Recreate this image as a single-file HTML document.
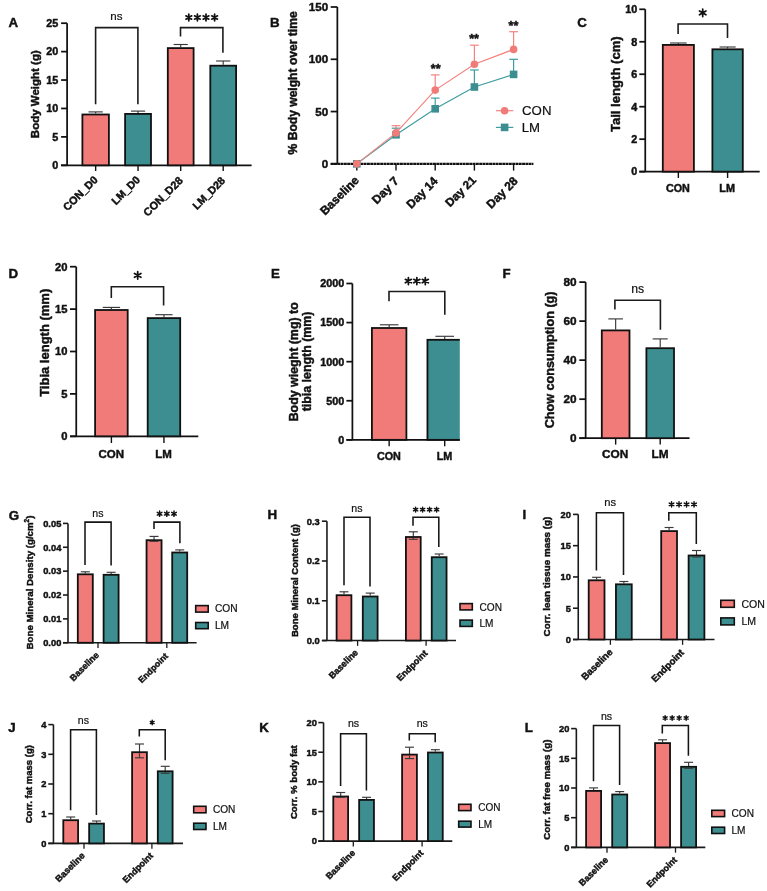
<!DOCTYPE html>
<html><head><meta charset="utf-8"><style>
html,body{margin:0;padding:0;background:#fff;}
svg{display:block;font-family:"Liberation Sans", sans-serif;will-change:transform;filter:blur(0.3px);}

</style></head><body>
<svg width="767" height="891" viewBox="0 0 767 891">
<rect width="767" height="891" fill="#fff"/>
<text x="8.5" y="26.8" font-size="13.3" font-weight="bold" text-anchor="start" fill="#111" stroke="#111" stroke-width="0.45" >A</text>
<line x1="67.1" y1="23.2" x2="67.1" y2="165.3" stroke="#111" stroke-width="1.75" />
<line x1="61.1" y1="165.3" x2="67.1" y2="165.3" stroke="#111" stroke-width="1.75" />
<text x="58.39" y="169.13" font-size="10.8" font-weight="bold" text-anchor="end" fill="#111" stroke="#111" stroke-width="0.45" >0</text>
<line x1="61.1" y1="136.88" x2="67.1" y2="136.88" stroke="#111" stroke-width="1.75" />
<text x="58.39" y="140.71" font-size="10.8" font-weight="bold" text-anchor="end" fill="#111" stroke="#111" stroke-width="0.45" >5</text>
<line x1="61.1" y1="108.46" x2="67.1" y2="108.46" stroke="#111" stroke-width="1.75" />
<text x="58.39" y="112.29" font-size="10.8" font-weight="bold" text-anchor="end" fill="#111" stroke="#111" stroke-width="0.45" >10</text>
<line x1="61.1" y1="80.04" x2="67.1" y2="80.04" stroke="#111" stroke-width="1.75" />
<text x="58.39" y="83.87" font-size="10.8" font-weight="bold" text-anchor="end" fill="#111" stroke="#111" stroke-width="0.45" >15</text>
<line x1="61.1" y1="51.62" x2="67.1" y2="51.62" stroke="#111" stroke-width="1.75" />
<text x="58.39" y="55.45" font-size="10.8" font-weight="bold" text-anchor="end" fill="#111" stroke="#111" stroke-width="0.45" >20</text>
<line x1="61.1" y1="23.2" x2="67.1" y2="23.2" stroke="#111" stroke-width="1.75" />
<text x="58.39" y="27.03" font-size="10.8" font-weight="bold" text-anchor="end" fill="#111" stroke="#111" stroke-width="0.45" >25</text>
<line x1="61.1" y1="165.3" x2="251.6" y2="165.3" stroke="#111" stroke-width="1.75" />
<line x1="95.65" y1="113.6" x2="95.65" y2="111.9" stroke="#3a3a3a" stroke-width="1.15" />
<line x1="88.55" y1="111.9" x2="102.75" y2="111.9" stroke="#3a3a3a" stroke-width="1.15" />
<rect x="82.4" y="114.5" width="26.5" height="50.8" fill="#F17B78" stroke="#111" stroke-width="1.8" />
<line x1="95.65" y1="165.3" x2="95.65" y2="171" stroke="#111" stroke-width="1.4" />
<line x1="138.05" y1="113" x2="138.05" y2="111.1" stroke="#3a3a3a" stroke-width="1.15" />
<line x1="130.95" y1="111.1" x2="145.15" y2="111.1" stroke="#3a3a3a" stroke-width="1.15" />
<rect x="125.1" y="113.9" width="25.9" height="51.4" fill="#3C8E91" stroke="#111" stroke-width="1.8" />
<line x1="138.05" y1="165.3" x2="138.05" y2="171" stroke="#111" stroke-width="1.4" />
<line x1="180.7" y1="47.2" x2="180.7" y2="44.5" stroke="#3a3a3a" stroke-width="1.15" />
<line x1="173.6" y1="44.5" x2="187.8" y2="44.5" stroke="#3a3a3a" stroke-width="1.15" />
<rect x="167.8" y="48.1" width="25.8" height="117.2" fill="#F17B78" stroke="#111" stroke-width="1.8" />
<line x1="180.7" y1="165.3" x2="180.7" y2="171" stroke="#111" stroke-width="1.4" />
<line x1="223.2" y1="64.8" x2="223.2" y2="61" stroke="#3a3a3a" stroke-width="1.15" />
<line x1="216.1" y1="61" x2="230.3" y2="61" stroke="#3a3a3a" stroke-width="1.15" />
<rect x="210.3" y="65.7" width="25.8" height="99.6" fill="#3C8E91" stroke="#111" stroke-width="1.8" />
<line x1="223.2" y1="165.3" x2="223.2" y2="171" stroke="#111" stroke-width="1.4" />
<text x="98.45" y="180.5" font-size="10.79" font-weight="bold" text-anchor="end" fill="#111" stroke="#111" stroke-width="0.45" transform="rotate(-45 98.45 180.5)" >CON_D0</text>
<text x="140.85" y="180.5" font-size="10.75" font-weight="bold" text-anchor="end" fill="#111" stroke="#111" stroke-width="0.45" transform="rotate(-45 140.85 180.5)" >LM_D0</text>
<text x="183.5" y="181.3" font-size="10.93" font-weight="bold" text-anchor="end" fill="#111" stroke="#111" stroke-width="0.45" transform="rotate(-45 183.5 181.3)" >CON_D28</text>
<text x="225.8" y="181.3" font-size="10.66" font-weight="bold" text-anchor="end" fill="#111" stroke="#111" stroke-width="0.45" transform="rotate(-45 225.8 181.3)" >LM_D28</text>
<polyline points="95.6,104.2 95.6,27.6 137.9,27.6 137.9,104.2" fill="none" stroke="#1c1c1c" stroke-width="1.6" stroke-linejoin="miter" />
<text x="116.4" y="19.9" font-size="11.6" font-weight="normal" text-anchor="middle" fill="#111" stroke="#111" stroke-width="0.2" >ns</text>
<polyline points="180.5,36.4 180.5,27.6 222.9,27.6 222.9,52.8" fill="none" stroke="#1c1c1c" stroke-width="1.6" stroke-linejoin="miter" />
<path d="M188.8 20.82L188.8 14.18M185.92 19.16L191.68 15.84M191.68 19.16L185.92 15.84" stroke="#111" stroke-width="1.75" stroke-linecap="round" fill="none"/>
<path d="M197.4 20.82L197.4 14.18M194.52 19.16L200.28 15.84M200.28 19.16L194.52 15.84" stroke="#111" stroke-width="1.75" stroke-linecap="round" fill="none"/>
<path d="M206 20.82L206 14.18M203.12 19.16L208.88 15.84M208.88 19.16L203.12 15.84" stroke="#111" stroke-width="1.75" stroke-linecap="round" fill="none"/>
<path d="M214.6 20.82L214.6 14.18M211.72 19.16L217.48 15.84M217.48 19.16L211.72 15.84" stroke="#111" stroke-width="1.75" stroke-linecap="round" fill="none"/>
<text x="39" y="94.2" font-size="11.5" font-weight="bold" text-anchor="middle" fill="#111" stroke="#111" stroke-width="0.45" transform="rotate(-90 39 94.2)" >Body Weight (g)</text>
<text x="270" y="27" font-size="13.3" font-weight="bold" text-anchor="start" fill="#111" stroke="#111" stroke-width="0.45" >B</text>
<line x1="337.35" y1="6.99" x2="337.35" y2="163.85" stroke="#111" stroke-width="1.75" />
<line x1="330.7" y1="163.85" x2="337.35" y2="163.85" stroke="#111" stroke-width="1.75" />
<text x="328.12" y="167.97" font-size="11.6" font-weight="bold" text-anchor="end" fill="#111" stroke="#111" stroke-width="0.45" >0</text>
<line x1="330.7" y1="111.56" x2="337.35" y2="111.56" stroke="#111" stroke-width="1.75" />
<text x="328.12" y="115.68" font-size="11.6" font-weight="bold" text-anchor="end" fill="#111" stroke="#111" stroke-width="0.45" >50</text>
<line x1="330.7" y1="59.28" x2="337.35" y2="59.28" stroke="#111" stroke-width="1.75" />
<text x="328.12" y="63.4" font-size="11.6" font-weight="bold" text-anchor="end" fill="#111" stroke="#111" stroke-width="0.45" >100</text>
<line x1="330.7" y1="6.99" x2="337.35" y2="6.99" stroke="#111" stroke-width="1.75" />
<text x="328.12" y="11.11" font-size="11.6" font-weight="bold" text-anchor="end" fill="#111" stroke="#111" stroke-width="0.45" >150</text>
<line x1="330.7" y1="163.85" x2="533.4" y2="163.85" stroke="#111" stroke-width="2.2" stroke-dasharray="2.9 0.4"/>
<line x1="356.8" y1="163.85" x2="356.8" y2="170.6" stroke="#111" stroke-width="1.4" />
<line x1="396" y1="163.85" x2="396" y2="170.6" stroke="#111" stroke-width="1.4" />
<line x1="435.2" y1="163.85" x2="435.2" y2="170.6" stroke="#111" stroke-width="1.4" />
<line x1="474.4" y1="163.85" x2="474.4" y2="170.6" stroke="#111" stroke-width="1.4" />
<line x1="513.6" y1="163.85" x2="513.6" y2="170.6" stroke="#111" stroke-width="1.4" />
<line x1="396" y1="134.8" x2="396" y2="128.2" stroke="#3E9EA0" stroke-width="1.2" />
<line x1="391.65" y1="128.2" x2="400.35" y2="128.2" stroke="#3E9EA0" stroke-width="1.2" />
<line x1="435.2" y1="108.8" x2="435.2" y2="98.1" stroke="#3E9EA0" stroke-width="1.2" />
<line x1="430.85" y1="98.1" x2="439.55" y2="98.1" stroke="#3E9EA0" stroke-width="1.2" />
<line x1="474.4" y1="87" x2="474.4" y2="70" stroke="#3E9EA0" stroke-width="1.2" />
<line x1="470.05" y1="70" x2="478.75" y2="70" stroke="#3E9EA0" stroke-width="1.2" />
<line x1="513.6" y1="74.4" x2="513.6" y2="59.3" stroke="#3E9EA0" stroke-width="1.2" />
<line x1="509.25" y1="59.3" x2="517.95" y2="59.3" stroke="#3E9EA0" stroke-width="1.2" />
<line x1="396" y1="132.9" x2="396" y2="125.7" stroke="#F2837F" stroke-width="1.2" />
<line x1="391.65" y1="125.7" x2="400.35" y2="125.7" stroke="#F2837F" stroke-width="1.2" />
<line x1="435.2" y1="90.1" x2="435.2" y2="74.9" stroke="#F2837F" stroke-width="1.2" />
<line x1="430.85" y1="74.9" x2="439.55" y2="74.9" stroke="#F2837F" stroke-width="1.2" />
<line x1="474.4" y1="64.2" x2="474.4" y2="45.2" stroke="#F2837F" stroke-width="1.2" />
<line x1="470.05" y1="45.2" x2="478.75" y2="45.2" stroke="#F2837F" stroke-width="1.2" />
<line x1="513.6" y1="49.4" x2="513.6" y2="31.7" stroke="#F2837F" stroke-width="1.2" />
<line x1="509.25" y1="31.7" x2="517.95" y2="31.7" stroke="#F2837F" stroke-width="1.2" />
<polyline points="356.8,163.85 396,134.8 435.2,108.8 474.4,87 513.6,74.4" fill="none" stroke="#3E9EA0" stroke-width="1.2" stroke-linejoin="miter" />
<rect x="353" y="160.05" width="7.6" height="7.6" fill="#3C8E91"/>
<rect x="392.2" y="131" width="7.6" height="7.6" fill="#3C8E91"/>
<rect x="431.4" y="105" width="7.6" height="7.6" fill="#3C8E91"/>
<rect x="470.6" y="83.2" width="7.6" height="7.6" fill="#3C8E91"/>
<rect x="509.8" y="70.6" width="7.6" height="7.6" fill="#3C8E91"/>
<polyline points="356.8,163.85 396,132.9 435.2,90.1 474.4,64.2 513.6,49.4" fill="none" stroke="#F2837F" stroke-width="1.2" stroke-linejoin="miter" />
<circle cx="356.8" cy="163.85" r="3.8" fill="#F17B78"/>
<circle cx="396" cy="132.9" r="3.8" fill="#F17B78"/>
<circle cx="435.2" cy="90.1" r="3.8" fill="#F17B78"/>
<circle cx="474.4" cy="64.2" r="3.8" fill="#F17B78"/>
<circle cx="513.6" cy="49.4" r="3.8" fill="#F17B78"/>
<text x="435.7" y="73.4" font-size="12.5" font-weight="bold" text-anchor="middle" fill="#111" stroke="#111" stroke-width="0.45" >**</text>
<text x="474.1" y="43.4" font-size="12.5" font-weight="bold" text-anchor="middle" fill="#111" stroke="#111" stroke-width="0.45" >**</text>
<text x="513.4" y="30.1" font-size="12.5" font-weight="bold" text-anchor="middle" fill="#111" stroke="#111" stroke-width="0.45" >**</text>
<text x="359.8" y="181.05" font-size="11.98" font-weight="bold" text-anchor="end" fill="#111" stroke="#111" stroke-width="0.45" transform="rotate(-45 359.8 181.05)" >Baseline</text>
<text x="399.6" y="181.85" font-size="12.09" font-weight="bold" text-anchor="end" fill="#111" stroke="#111" stroke-width="0.45" transform="rotate(-45 399.6 181.85)" >Day 7</text>
<text x="438.6" y="181.85" font-size="11.98" font-weight="bold" text-anchor="end" fill="#111" stroke="#111" stroke-width="0.45" transform="rotate(-45 438.6 181.85)" >Day 14</text>
<text x="476.8" y="180.85" font-size="11.73" font-weight="bold" text-anchor="end" fill="#111" stroke="#111" stroke-width="0.45" transform="rotate(-45 476.8 180.85)" >Day 21</text>
<text x="518.6" y="181.85" font-size="11.98" font-weight="bold" text-anchor="end" fill="#111" stroke="#111" stroke-width="0.45" transform="rotate(-45 518.6 181.85)" >Day 28</text>
<line x1="495.9" y1="110.7" x2="513.3" y2="110.7" stroke="#F2837F" stroke-width="1.2" />
<circle cx="504.6" cy="110.7" r="3.8" fill="#F17B78"/>
<line x1="495.9" y1="127.4" x2="513.3" y2="127.4" stroke="#3E9EA0" stroke-width="1.2" />
<rect x="500.8" y="123.6" width="7.6" height="7.6" fill="#3C8E91"/>
<text x="522.1" y="115.1" font-size="13.2" font-weight="normal" text-anchor="start" fill="#111" stroke="#111" stroke-width="0.2" >CON</text>
<text x="521.7" y="131.7" font-size="13.2" font-weight="normal" text-anchor="start" fill="#111" stroke="#111" stroke-width="0.2" >LM</text>
<text x="297.4" y="82.9" font-size="12.1" font-weight="bold" text-anchor="middle" fill="#111" stroke="#111" stroke-width="0.45" transform="rotate(-90 297.4 82.9)" >% Body weight over time</text>
<text x="577.3" y="27" font-size="13.3" font-weight="bold" text-anchor="start" fill="#111" stroke="#111" stroke-width="0.45" >C</text>
<line x1="645.25" y1="9.3" x2="645.25" y2="171.65" stroke="#111" stroke-width="1.75" />
<line x1="639.3" y1="171.65" x2="645.25" y2="171.65" stroke="#111" stroke-width="1.75" />
<text x="637.29" y="175.48" font-size="10.8" font-weight="bold" text-anchor="end" fill="#111" stroke="#111" stroke-width="0.45" >0</text>
<line x1="639.3" y1="139.18" x2="645.25" y2="139.18" stroke="#111" stroke-width="1.75" />
<text x="637.29" y="143.01" font-size="10.8" font-weight="bold" text-anchor="end" fill="#111" stroke="#111" stroke-width="0.45" >2</text>
<line x1="639.3" y1="106.71" x2="645.25" y2="106.71" stroke="#111" stroke-width="1.75" />
<text x="637.29" y="110.54" font-size="10.8" font-weight="bold" text-anchor="end" fill="#111" stroke="#111" stroke-width="0.45" >4</text>
<line x1="639.3" y1="74.24" x2="645.25" y2="74.24" stroke="#111" stroke-width="1.75" />
<text x="637.29" y="78.07" font-size="10.8" font-weight="bold" text-anchor="end" fill="#111" stroke="#111" stroke-width="0.45" >6</text>
<line x1="639.3" y1="41.77" x2="645.25" y2="41.77" stroke="#111" stroke-width="1.75" />
<text x="637.29" y="45.6" font-size="10.8" font-weight="bold" text-anchor="end" fill="#111" stroke="#111" stroke-width="0.45" >8</text>
<line x1="639.3" y1="9.3" x2="645.25" y2="9.3" stroke="#111" stroke-width="1.75" />
<text x="637.29" y="13.13" font-size="10.8" font-weight="bold" text-anchor="end" fill="#111" stroke="#111" stroke-width="0.45" >10</text>
<line x1="639.3" y1="171.65" x2="759.7" y2="171.65" stroke="#111" stroke-width="1.75" />
<line x1="678.35" y1="44" x2="678.35" y2="43" stroke="#3a3a3a" stroke-width="1.15" />
<line x1="670" y1="43" x2="686.7" y2="43" stroke="#3a3a3a" stroke-width="1.15" />
<rect x="662.8" y="44.9" width="31.1" height="126.75" fill="#F17B78" stroke="#111" stroke-width="1.8" />
<line x1="678.35" y1="171.65" x2="678.35" y2="178" stroke="#111" stroke-width="1.4" />
<line x1="727.6" y1="48.4" x2="727.6" y2="47" stroke="#3a3a3a" stroke-width="1.15" />
<line x1="719.55" y1="47" x2="735.65" y2="47" stroke="#3a3a3a" stroke-width="1.15" />
<rect x="712.4" y="49.3" width="30.4" height="122.35" fill="#3C8E91" stroke="#111" stroke-width="1.8" />
<line x1="727.6" y1="171.65" x2="727.6" y2="178" stroke="#111" stroke-width="1.4" />
<text x="677.9" y="192.3" font-size="10.8" font-weight="bold" text-anchor="middle" fill="#111" stroke="#111" stroke-width="0.45" >CON</text>
<text x="727.1" y="192.3" font-size="10.8" font-weight="bold" text-anchor="middle" fill="#111" stroke="#111" stroke-width="0.45" >LM</text>
<polyline points="678.1,33.9 678.1,24 727.5,24 727.5,38.1" fill="none" stroke="#1c1c1c" stroke-width="1.6" stroke-linejoin="miter" />
<path d="M702.7 16.62L702.7 9.18M699.47 14.76L705.93 11.04M705.93 14.76L699.47 11.04" stroke="#111" stroke-width="1.75" stroke-linecap="round" fill="none"/>
<text x="620.4" y="84.2" font-size="13.1" font-weight="bold" text-anchor="middle" fill="#111" stroke="#111" stroke-width="0.45" transform="rotate(-90 620.4 84.2)" >Tail length (cm)</text>
<text x="8.5" y="278" font-size="13.3" font-weight="bold" text-anchor="start" fill="#111" stroke="#111" stroke-width="0.45" >D</text>
<line x1="76.25" y1="266.7" x2="76.25" y2="436.3" stroke="#111" stroke-width="1.75" />
<line x1="70" y1="436.3" x2="76.25" y2="436.3" stroke="#111" stroke-width="1.75" />
<text x="67.4" y="440.28" font-size="11.2" font-weight="bold" text-anchor="end" fill="#111" stroke="#111" stroke-width="0.45" >0</text>
<line x1="70" y1="393.9" x2="76.25" y2="393.9" stroke="#111" stroke-width="1.75" />
<text x="67.4" y="397.88" font-size="11.2" font-weight="bold" text-anchor="end" fill="#111" stroke="#111" stroke-width="0.45" >5</text>
<line x1="70" y1="351.5" x2="76.25" y2="351.5" stroke="#111" stroke-width="1.75" />
<text x="67.4" y="355.48" font-size="11.2" font-weight="bold" text-anchor="end" fill="#111" stroke="#111" stroke-width="0.45" >10</text>
<line x1="70" y1="309.1" x2="76.25" y2="309.1" stroke="#111" stroke-width="1.75" />
<text x="67.4" y="313.08" font-size="11.2" font-weight="bold" text-anchor="end" fill="#111" stroke="#111" stroke-width="0.45" >15</text>
<line x1="70" y1="266.7" x2="76.25" y2="266.7" stroke="#111" stroke-width="1.75" />
<text x="67.4" y="270.68" font-size="11.2" font-weight="bold" text-anchor="end" fill="#111" stroke="#111" stroke-width="0.45" >20</text>
<line x1="70" y1="436.3" x2="198.3" y2="436.3" stroke="#111" stroke-width="1.75" />
<line x1="111.4" y1="309.1" x2="111.4" y2="307.4" stroke="#3a3a3a" stroke-width="1.15" />
<line x1="102.75" y1="307.4" x2="120.05" y2="307.4" stroke="#3a3a3a" stroke-width="1.15" />
<rect x="95.1" y="310" width="32.6" height="126.3" fill="#F17B78" stroke="#111" stroke-width="1.8" />
<line x1="111.4" y1="436.3" x2="111.4" y2="443" stroke="#111" stroke-width="1.4" />
<line x1="163.95" y1="317.2" x2="163.95" y2="314.7" stroke="#3a3a3a" stroke-width="1.15" />
<line x1="155.3" y1="314.7" x2="172.6" y2="314.7" stroke="#3a3a3a" stroke-width="1.15" />
<rect x="147.7" y="318.1" width="32.5" height="118.2" fill="#3C8E91" stroke="#111" stroke-width="1.8" />
<line x1="163.95" y1="436.3" x2="163.95" y2="443" stroke="#111" stroke-width="1.4" />
<text x="111.2" y="457.5" font-size="11.5" font-weight="bold" text-anchor="middle" fill="#111" stroke="#111" stroke-width="0.45" >CON</text>
<text x="163.6" y="457.5" font-size="11.5" font-weight="bold" text-anchor="middle" fill="#111" stroke="#111" stroke-width="0.45" >LM</text>
<polyline points="111.3,298 111.3,286.8 163.6,286.8 163.6,305.5" fill="none" stroke="#1c1c1c" stroke-width="1.6" stroke-linejoin="miter" />
<path d="M137.7 279.12L137.7 271.67M134.47 277.26L140.93 273.54M140.93 277.26L134.47 273.54" stroke="#111" stroke-width="1.75" stroke-linecap="round" fill="none"/>
<text x="48.8" y="342.8" font-size="13" font-weight="bold" text-anchor="middle" fill="#111" stroke="#111" stroke-width="0.45" transform="rotate(-90 48.8 342.8)" >Tibia length (mm)</text>
<text x="270.9" y="278" font-size="13.3" font-weight="bold" text-anchor="start" fill="#111" stroke="#111" stroke-width="0.45" >E</text>
<line x1="352.4" y1="283.5" x2="352.4" y2="439.85" stroke="#111" stroke-width="1.75" />
<line x1="346.4" y1="439.85" x2="352.4" y2="439.85" stroke="#111" stroke-width="1.75" />
<text x="344.29" y="443.68" font-size="10.8" font-weight="bold" text-anchor="end" fill="#111" stroke="#111" stroke-width="0.45" >0</text>
<line x1="346.4" y1="400.76" x2="352.4" y2="400.76" stroke="#111" stroke-width="1.75" />
<text x="344.29" y="404.6" font-size="10.8" font-weight="bold" text-anchor="end" fill="#111" stroke="#111" stroke-width="0.45" >500</text>
<line x1="346.4" y1="361.68" x2="352.4" y2="361.68" stroke="#111" stroke-width="1.75" />
<text x="344.29" y="365.51" font-size="10.8" font-weight="bold" text-anchor="end" fill="#111" stroke="#111" stroke-width="0.45" >1000</text>
<line x1="346.4" y1="322.59" x2="352.4" y2="322.59" stroke="#111" stroke-width="1.75" />
<text x="344.29" y="326.42" font-size="10.8" font-weight="bold" text-anchor="end" fill="#111" stroke="#111" stroke-width="0.45" >1500</text>
<line x1="346.4" y1="283.5" x2="352.4" y2="283.5" stroke="#111" stroke-width="1.75" />
<text x="344.29" y="287.33" font-size="10.8" font-weight="bold" text-anchor="end" fill="#111" stroke="#111" stroke-width="0.45" >2000</text>
<line x1="346.4" y1="439.85" x2="459.8" y2="439.85" stroke="#111" stroke-width="1.75" />
<clipPath id="cpE"><rect x="0" y="0" width="459.8" height="891"/></clipPath>
<line x1="389.15" y1="327.1" x2="389.15" y2="324.8" stroke="#3a3a3a" stroke-width="1.15" />
<line x1="379.85" y1="324.8" x2="398.45" y2="324.8" stroke="#3a3a3a" stroke-width="1.15" />
<rect x="371.9" y="328" width="34.5" height="111.85" fill="#F17B78" stroke="#111" stroke-width="1.8" clip-path="url(#cpE)"/>
<line x1="389.15" y1="439.85" x2="389.15" y2="446.2" stroke="#111" stroke-width="1.4" />
<line x1="444.7" y1="338.9" x2="444.7" y2="336.3" stroke="#3a3a3a" stroke-width="1.15" />
<line x1="435.4" y1="336.3" x2="454" y2="336.3" stroke="#3a3a3a" stroke-width="1.15" />
<rect x="427.45" y="339.8" width="34.5" height="100.05" fill="#3C8E91" stroke="#111" stroke-width="1.8" clip-path="url(#cpE)"/>
<line x1="444.7" y1="439.85" x2="444.7" y2="446.2" stroke="#111" stroke-width="1.4" />
<text x="388.9" y="459.6" font-size="10.8" font-weight="bold" text-anchor="middle" fill="#111" stroke="#111" stroke-width="0.45" >CON</text>
<text x="444.5" y="459.6" font-size="10.8" font-weight="bold" text-anchor="middle" fill="#111" stroke="#111" stroke-width="0.45" >LM</text>
<polyline points="389,301.2 389,291.5 444.8,291.5 444.8,314.8" fill="none" stroke="#1c1c1c" stroke-width="1.6" stroke-linejoin="miter" />
<path d="M408.4 284.62L408.4 277.58M405.35 282.86L411.45 279.34M411.45 282.86L405.35 279.34" stroke="#111" stroke-width="1.75" stroke-linecap="round" fill="none"/>
<path d="M416.85 284.62L416.85 277.58M413.8 282.86L419.9 279.34M419.9 282.86L413.8 279.34" stroke="#111" stroke-width="1.75" stroke-linecap="round" fill="none"/>
<path d="M425.3 284.62L425.3 277.58M422.25 282.86L428.35 279.34M428.35 282.86L422.25 279.34" stroke="#111" stroke-width="1.75" stroke-linecap="round" fill="none"/>
<text x="298.3" y="361.8" font-size="12.4" font-weight="bold" text-anchor="middle" fill="#111" stroke="#111" stroke-width="0.45" transform="rotate(-90 298.3 361.8)" >Body wieght (mg) to</text>
<text x="311.3" y="361.4" font-size="12.4" font-weight="bold" text-anchor="middle" fill="#111" stroke="#111" stroke-width="0.45" transform="rotate(-90 311.3 361.4)" >tibia length (mm)</text>
<text x="502.6" y="278.3" font-size="13.3" font-weight="bold" text-anchor="start" fill="#111" stroke="#111" stroke-width="0.45" >F</text>
<line x1="585.65" y1="282.1" x2="585.65" y2="438.2" stroke="#111" stroke-width="1.75" />
<line x1="579.3" y1="438.2" x2="585.65" y2="438.2" stroke="#111" stroke-width="1.75" />
<text x="576.63" y="442.39" font-size="11.8" font-weight="bold" text-anchor="end" fill="#111" stroke="#111" stroke-width="0.45" >0</text>
<line x1="579.3" y1="399.18" x2="585.65" y2="399.18" stroke="#111" stroke-width="1.75" />
<text x="576.63" y="403.36" font-size="11.8" font-weight="bold" text-anchor="end" fill="#111" stroke="#111" stroke-width="0.45" >20</text>
<line x1="579.3" y1="360.15" x2="585.65" y2="360.15" stroke="#111" stroke-width="1.75" />
<text x="576.63" y="364.34" font-size="11.8" font-weight="bold" text-anchor="end" fill="#111" stroke="#111" stroke-width="0.45" >40</text>
<line x1="579.3" y1="321.12" x2="585.65" y2="321.12" stroke="#111" stroke-width="1.75" />
<text x="576.63" y="325.31" font-size="11.8" font-weight="bold" text-anchor="end" fill="#111" stroke="#111" stroke-width="0.45" >60</text>
<line x1="579.3" y1="282.1" x2="585.65" y2="282.1" stroke="#111" stroke-width="1.75" />
<text x="576.63" y="286.29" font-size="11.8" font-weight="bold" text-anchor="end" fill="#111" stroke="#111" stroke-width="0.45" >80</text>
<line x1="579.3" y1="438.2" x2="689.5" y2="438.2" stroke="#111" stroke-width="1.75" />
<line x1="615.65" y1="329.5" x2="615.65" y2="318.9" stroke="#3a3a3a" stroke-width="1.15" />
<line x1="608.35" y1="318.9" x2="622.95" y2="318.9" stroke="#3a3a3a" stroke-width="1.15" />
<rect x="601.8" y="330.4" width="27.7" height="107.8" fill="#F17B78" stroke="#111" stroke-width="1.8" />
<line x1="615.65" y1="438.2" x2="615.65" y2="444.6" stroke="#111" stroke-width="1.4" />
<line x1="660.2" y1="347.3" x2="660.2" y2="338.9" stroke="#3a3a3a" stroke-width="1.15" />
<line x1="652.7" y1="338.9" x2="667.7" y2="338.9" stroke="#3a3a3a" stroke-width="1.15" />
<rect x="646.4" y="348.2" width="27.6" height="90" fill="#3C8E91" stroke="#111" stroke-width="1.8" />
<line x1="660.2" y1="438.2" x2="660.2" y2="444.6" stroke="#111" stroke-width="1.4" />
<text x="615.1" y="457.5" font-size="11.8" font-weight="bold" text-anchor="middle" fill="#111" stroke="#111" stroke-width="0.45" >CON</text>
<text x="660" y="457.5" font-size="11.8" font-weight="bold" text-anchor="middle" fill="#111" stroke="#111" stroke-width="0.45" >LM</text>
<polyline points="614.9,309.6 614.9,300.2 660.4,300.2 660.4,329.7" fill="none" stroke="#1c1c1c" stroke-width="1.6" stroke-linejoin="miter" />
<text x="637.6" y="292.6" font-size="12.2" font-weight="normal" text-anchor="middle" fill="#111" stroke="#111" stroke-width="0.2" >ns</text>
<text x="554" y="359.9" font-size="12.65" font-weight="bold" text-anchor="middle" fill="#111" stroke="#111" stroke-width="0.45" transform="rotate(-90 554 359.9)" >Chow consumption (g)</text>
<text x="8.7" y="519.6" font-size="13.3" font-weight="bold" text-anchor="start" fill="#111" stroke="#111" stroke-width="0.45" >G</text>
<line x1="68" y1="523.4" x2="68" y2="642.75" stroke="#1a1a1a" stroke-width="1.6" />
<line x1="63" y1="642.75" x2="68" y2="642.75" stroke="#1a1a1a" stroke-width="1.6" />
<text x="61.32" y="646.05" font-size="9.3" font-weight="bold" text-anchor="end" fill="#111" stroke="#111" stroke-width="0.45" >0.00</text>
<line x1="63" y1="618.88" x2="68" y2="618.88" stroke="#1a1a1a" stroke-width="1.6" />
<text x="61.32" y="622.18" font-size="9.3" font-weight="bold" text-anchor="end" fill="#111" stroke="#111" stroke-width="0.45" >0.01</text>
<line x1="63" y1="595.01" x2="68" y2="595.01" stroke="#1a1a1a" stroke-width="1.6" />
<text x="61.32" y="598.31" font-size="9.3" font-weight="bold" text-anchor="end" fill="#111" stroke="#111" stroke-width="0.45" >0.02</text>
<line x1="63" y1="571.14" x2="68" y2="571.14" stroke="#1a1a1a" stroke-width="1.6" />
<text x="61.32" y="574.44" font-size="9.3" font-weight="bold" text-anchor="end" fill="#111" stroke="#111" stroke-width="0.45" >0.03</text>
<line x1="63" y1="547.27" x2="68" y2="547.27" stroke="#1a1a1a" stroke-width="1.6" />
<text x="61.32" y="550.57" font-size="9.3" font-weight="bold" text-anchor="end" fill="#111" stroke="#111" stroke-width="0.45" >0.04</text>
<line x1="63" y1="523.4" x2="68" y2="523.4" stroke="#1a1a1a" stroke-width="1.6" />
<text x="61.32" y="526.7" font-size="9.3" font-weight="bold" text-anchor="end" fill="#111" stroke="#111" stroke-width="0.45" >0.05</text>
<line x1="63" y1="642.75" x2="196.6" y2="642.75" stroke="#1a1a1a" stroke-width="1.6" />
<line x1="85.3" y1="573.4" x2="85.3" y2="571.8" stroke="#3a3a3a" stroke-width="1.15" />
<line x1="80.8" y1="571.8" x2="89.8" y2="571.8" stroke="#3a3a3a" stroke-width="1.15" />
<rect x="77.8" y="574.3" width="15" height="68.45" fill="#F17B78" stroke="#111" stroke-width="1.8" />
<line x1="111.1" y1="573.9" x2="111.1" y2="572.3" stroke="#3a3a3a" stroke-width="1.15" />
<line x1="106.6" y1="572.3" x2="115.6" y2="572.3" stroke="#3a3a3a" stroke-width="1.15" />
<rect x="103.6" y="574.8" width="15" height="67.95" fill="#3C8E91" stroke="#111" stroke-width="1.8" />
<line x1="154.05" y1="541.3" x2="154.05" y2="536.4" stroke="#3a3a3a" stroke-width="1.15" />
<line x1="149.55" y1="536.4" x2="158.55" y2="536.4" stroke="#3a3a3a" stroke-width="1.15" />
<rect x="146.55" y="540.2" width="15" height="102.55" fill="#F17B78" stroke="#111" stroke-width="1.8" />
<line x1="154.05" y1="541.1" x2="154.05" y2="541.3" stroke="#3a3a3a" stroke-width="1.15" />
<line x1="149.55" y1="541.3" x2="158.55" y2="541.3" stroke="#3a3a3a" stroke-width="1.15" />
<line x1="179.7" y1="551.6" x2="179.7" y2="549.9" stroke="#3a3a3a" stroke-width="1.15" />
<line x1="175.2" y1="549.9" x2="184.2" y2="549.9" stroke="#3a3a3a" stroke-width="1.15" />
<rect x="172.2" y="552.5" width="15" height="90.25" fill="#3C8E91" stroke="#111" stroke-width="1.8" />
<line x1="98" y1="642.75" x2="98" y2="648.05" stroke="#1a1a1a" stroke-width="1.3" />
<text x="99.4" y="655.75" font-size="8.91" font-weight="bold" text-anchor="end" fill="#111" stroke="#111" stroke-width="0.45" transform="rotate(-45 99.4 655.75)" >Baseline</text>
<line x1="166.8" y1="642.75" x2="166.8" y2="648.05" stroke="#1a1a1a" stroke-width="1.3" />
<text x="168.6" y="656.75" font-size="8.75" font-weight="bold" text-anchor="end" fill="#111" stroke="#111" stroke-width="0.45" transform="rotate(-45 168.6 656.75)" >Endpoint</text>
<polyline points="85,564.9 85,522.1 111.1,522.1 111.1,565.4" fill="none" stroke="#151515" stroke-width="1.55" stroke-linejoin="miter" />
<text x="97.9" y="516.6" font-size="10.6" font-weight="normal" text-anchor="middle" fill="#111" stroke="#111" stroke-width="0.2" >ns</text>
<polyline points="154,529.1 154,522.1 179.9,522.1 179.9,543.3" fill="none" stroke="#151515" stroke-width="1.55" stroke-linejoin="miter" />
<path d="M159.6 516.38L159.6 511.03M157.28 515.04L161.92 512.36M161.92 515.04L157.28 512.36" stroke="#111" stroke-width="1.45" stroke-linecap="round" fill="none"/>
<path d="M166.8 516.38L166.8 511.03M164.48 515.04L169.12 512.36M169.12 515.04L164.48 512.36" stroke="#111" stroke-width="1.45" stroke-linecap="round" fill="none"/>
<path d="M174 516.38L174 511.03M171.68 515.04L176.32 512.36M176.32 515.04L171.68 512.36" stroke="#111" stroke-width="1.45" stroke-linecap="round" fill="none"/>
<rect x="195.7" y="605.6" width="12.5" height="6.5" fill="#F17B78" stroke="#111" stroke-width="1.6" />
<text x="214.89" y="612.2" font-size="10.2" font-weight="normal" text-anchor="start" fill="#111" stroke="#111" stroke-width="0.2" >CON</text>
<rect x="195.7" y="622.5" width="12.5" height="6.2" fill="#3C8E91" stroke="#111" stroke-width="1.6" />
<text x="214.89" y="629.2" font-size="10.2" font-weight="normal" text-anchor="start" fill="#111" stroke="#111" stroke-width="0.2" >LM</text>
<text x="32.9" y="582.5" font-size="9.7" font-weight="bold" text-anchor="middle" fill="#111" stroke="#111" stroke-width="0.45" transform="rotate(-90 32.9 582.5)" >Bone Mineral Density (g/cm<tspan font-size="6.5" dy="-3.5">2</tspan><tspan dy="3.5">)</tspan></text>
<text x="267.6" y="519" font-size="13.3" font-weight="bold" text-anchor="start" fill="#111" stroke="#111" stroke-width="0.45" >H</text>
<line x1="326.95" y1="521.21" x2="326.95" y2="640.55" stroke="#1a1a1a" stroke-width="1.6" />
<line x1="321.9" y1="640.55" x2="326.95" y2="640.55" stroke="#1a1a1a" stroke-width="1.6" />
<text x="319.72" y="643.85" font-size="9.3" font-weight="bold" text-anchor="end" fill="#111" stroke="#111" stroke-width="0.45" >0.0</text>
<line x1="321.9" y1="600.77" x2="326.95" y2="600.77" stroke="#1a1a1a" stroke-width="1.6" />
<text x="319.72" y="604.07" font-size="9.3" font-weight="bold" text-anchor="end" fill="#111" stroke="#111" stroke-width="0.45" >0.1</text>
<line x1="321.9" y1="560.99" x2="326.95" y2="560.99" stroke="#1a1a1a" stroke-width="1.6" />
<text x="319.72" y="564.29" font-size="9.3" font-weight="bold" text-anchor="end" fill="#111" stroke="#111" stroke-width="0.45" >0.2</text>
<line x1="321.9" y1="521.21" x2="326.95" y2="521.21" stroke="#1a1a1a" stroke-width="1.6" />
<text x="319.72" y="524.51" font-size="9.3" font-weight="bold" text-anchor="end" fill="#111" stroke="#111" stroke-width="0.45" >0.3</text>
<line x1="321.9" y1="640.55" x2="456" y2="640.55" stroke="#1a1a1a" stroke-width="1.6" />
<line x1="344" y1="594.3" x2="344" y2="591.8" stroke="#3a3a3a" stroke-width="1.15" />
<line x1="339.5" y1="591.8" x2="348.5" y2="591.8" stroke="#3a3a3a" stroke-width="1.15" />
<rect x="336.6" y="595.2" width="14.8" height="45.35" fill="#F17B78" stroke="#111" stroke-width="1.8" />
<line x1="370.2" y1="595.6" x2="370.2" y2="593.1" stroke="#3a3a3a" stroke-width="1.15" />
<line x1="365.7" y1="593.1" x2="374.7" y2="593.1" stroke="#3a3a3a" stroke-width="1.15" />
<rect x="362.8" y="596.5" width="14.8" height="44.05" fill="#3C8E91" stroke="#111" stroke-width="1.8" />
<line x1="413.3" y1="539.3" x2="413.3" y2="531.8" stroke="#3a3a3a" stroke-width="1.15" />
<line x1="408.8" y1="531.8" x2="417.8" y2="531.8" stroke="#3a3a3a" stroke-width="1.15" />
<rect x="405.9" y="537" width="14.8" height="103.55" fill="#F17B78" stroke="#111" stroke-width="1.8" />
<line x1="413.3" y1="537.9" x2="413.3" y2="539.3" stroke="#3a3a3a" stroke-width="1.15" />
<line x1="408.8" y1="539.3" x2="417.8" y2="539.3" stroke="#3a3a3a" stroke-width="1.15" />
<line x1="439.15" y1="556.3" x2="439.15" y2="554" stroke="#3a3a3a" stroke-width="1.15" />
<line x1="434.65" y1="554" x2="443.65" y2="554" stroke="#3a3a3a" stroke-width="1.15" />
<rect x="431.75" y="557.2" width="14.8" height="83.35" fill="#3C8E91" stroke="#111" stroke-width="1.8" />
<line x1="357.6" y1="640.55" x2="357.6" y2="645.85" stroke="#1a1a1a" stroke-width="1.3" />
<text x="358.6" y="653.15" font-size="9" font-weight="bold" text-anchor="end" fill="#111" stroke="#111" stroke-width="0.45" transform="rotate(-45 358.6 653.15)" >Baseline</text>
<line x1="426.1" y1="640.55" x2="426.1" y2="645.85" stroke="#1a1a1a" stroke-width="1.3" />
<text x="428.1" y="653.75" font-size="9.1" font-weight="bold" text-anchor="end" fill="#111" stroke="#111" stroke-width="0.45" transform="rotate(-45 428.1 653.75)" >Endpoint</text>
<polyline points="344,585.3 344,517.2 370,517.2 370,586.6" fill="none" stroke="#151515" stroke-width="1.55" stroke-linejoin="miter" />
<text x="356.9" y="512.2" font-size="10.6" font-weight="normal" text-anchor="middle" fill="#111" stroke="#111" stroke-width="0.2" >ns</text>
<polyline points="413,525.8 413,517.2 438.8,517.2 438.8,547" fill="none" stroke="#151515" stroke-width="1.55" stroke-linejoin="miter" />
<path d="M415.6 512.02L415.6 507.18M413.5 510.81L417.7 508.39M417.7 510.81L413.5 508.39" stroke="#111" stroke-width="1.45" stroke-linecap="round" fill="none"/>
<path d="M422.6 512.02L422.6 507.18M420.5 510.81L424.7 508.39M424.7 510.81L420.5 508.39" stroke="#111" stroke-width="1.45" stroke-linecap="round" fill="none"/>
<path d="M429.6 512.02L429.6 507.18M427.5 510.81L431.7 508.39M431.7 510.81L427.5 508.39" stroke="#111" stroke-width="1.45" stroke-linecap="round" fill="none"/>
<path d="M436.6 512.02L436.6 507.18M434.5 510.81L438.7 508.39M438.7 510.81L434.5 508.39" stroke="#111" stroke-width="1.45" stroke-linecap="round" fill="none"/>
<rect x="460" y="603.6" width="12.3" height="6.3" fill="#F17B78" stroke="#111" stroke-width="1.6" />
<text x="479.5" y="610.7" font-size="10.1" font-weight="normal" text-anchor="start" fill="#111" stroke="#111" stroke-width="0.2" >CON</text>
<rect x="460" y="620.1" width="12.3" height="6.3" fill="#3C8E91" stroke="#111" stroke-width="1.6" />
<text x="479.5" y="626.8" font-size="10.1" font-weight="normal" text-anchor="start" fill="#111" stroke="#111" stroke-width="0.2" >LM</text>
<text x="297.8" y="580.5" font-size="9.5" font-weight="bold" text-anchor="middle" fill="#111" stroke="#111" stroke-width="0.45" transform="rotate(-90 297.8 580.5)" >Bone Mineral Content (g)</text>
<text x="522.4" y="519" font-size="13.3" font-weight="bold" text-anchor="start" fill="#111" stroke="#111" stroke-width="0.45" >I</text>
<line x1="578.25" y1="514.4" x2="578.25" y2="639.5" stroke="#1a1a1a" stroke-width="1.6" />
<line x1="573" y1="639.5" x2="578.25" y2="639.5" stroke="#1a1a1a" stroke-width="1.6" />
<text x="570.82" y="642.8" font-size="9.3" font-weight="bold" text-anchor="end" fill="#111" stroke="#111" stroke-width="0.45" >0</text>
<line x1="573" y1="608.23" x2="578.25" y2="608.23" stroke="#1a1a1a" stroke-width="1.6" />
<text x="570.82" y="611.53" font-size="9.3" font-weight="bold" text-anchor="end" fill="#111" stroke="#111" stroke-width="0.45" >5</text>
<line x1="573" y1="576.95" x2="578.25" y2="576.95" stroke="#1a1a1a" stroke-width="1.6" />
<text x="570.82" y="580.25" font-size="9.3" font-weight="bold" text-anchor="end" fill="#111" stroke="#111" stroke-width="0.45" >10</text>
<line x1="573" y1="545.67" x2="578.25" y2="545.67" stroke="#1a1a1a" stroke-width="1.6" />
<text x="570.82" y="548.98" font-size="9.3" font-weight="bold" text-anchor="end" fill="#111" stroke="#111" stroke-width="0.45" >15</text>
<line x1="573" y1="514.4" x2="578.25" y2="514.4" stroke="#1a1a1a" stroke-width="1.6" />
<text x="570.82" y="517.7" font-size="9.3" font-weight="bold" text-anchor="end" fill="#111" stroke="#111" stroke-width="0.45" >20</text>
<line x1="573" y1="639.5" x2="714.5" y2="639.5" stroke="#1a1a1a" stroke-width="1.6" />
<line x1="596.6" y1="579.4" x2="596.6" y2="577.3" stroke="#3a3a3a" stroke-width="1.15" />
<line x1="592.1" y1="577.3" x2="601.1" y2="577.3" stroke="#3a3a3a" stroke-width="1.15" />
<rect x="588.7" y="580.3" width="15.8" height="59.2" fill="#F17B78" stroke="#111" stroke-width="1.8" />
<line x1="623.85" y1="583.4" x2="623.85" y2="581.5" stroke="#3a3a3a" stroke-width="1.15" />
<line x1="619.35" y1="581.5" x2="628.35" y2="581.5" stroke="#3a3a3a" stroke-width="1.15" />
<rect x="615.95" y="584.3" width="15.8" height="55.2" fill="#3C8E91" stroke="#111" stroke-width="1.8" />
<line x1="669.1" y1="530.2" x2="669.1" y2="527.5" stroke="#3a3a3a" stroke-width="1.15" />
<line x1="664.6" y1="527.5" x2="673.6" y2="527.5" stroke="#3a3a3a" stroke-width="1.15" />
<rect x="661.2" y="531.1" width="15.8" height="108.4" fill="#F17B78" stroke="#111" stroke-width="1.8" />
<line x1="696.5" y1="557" x2="696.5" y2="550.5" stroke="#3a3a3a" stroke-width="1.15" />
<line x1="692" y1="550.5" x2="701" y2="550.5" stroke="#3a3a3a" stroke-width="1.15" />
<rect x="688.6" y="555.5" width="15.8" height="84" fill="#3C8E91" stroke="#111" stroke-width="1.8" />
<line x1="696.5" y1="556.4" x2="696.5" y2="557" stroke="#3a3a3a" stroke-width="1.15" />
<line x1="692" y1="557" x2="701" y2="557" stroke="#3a3a3a" stroke-width="1.15" />
<line x1="610.4" y1="639.5" x2="610.4" y2="644.8" stroke="#1a1a1a" stroke-width="1.3" />
<text x="613.2" y="652.7" font-size="9.64" font-weight="bold" text-anchor="end" fill="#111" stroke="#111" stroke-width="0.45" transform="rotate(-45 613.2 652.7)" >Baseline</text>
<line x1="682.6" y1="639.5" x2="682.6" y2="644.8" stroke="#1a1a1a" stroke-width="1.3" />
<text x="684.6" y="653.3" font-size="9.62" font-weight="bold" text-anchor="end" fill="#111" stroke="#111" stroke-width="0.45" transform="rotate(-45 684.6 653.3)" >Endpoint</text>
<polyline points="596.4,570.4 596.4,512.7 623.5,512.7 623.5,575" fill="none" stroke="#151515" stroke-width="1.55" stroke-linejoin="miter" />
<text x="610.25" y="506.3" font-size="11.2" font-weight="normal" text-anchor="middle" fill="#111" stroke="#111" stroke-width="0.2" >ns</text>
<polyline points="668.8,520.7 668.8,512.7 696.3,512.7 696.3,544" fill="none" stroke="#151515" stroke-width="1.55" stroke-linejoin="miter" />
<path d="M671.55 507.07L671.55 501.72M669.23 505.74L673.87 503.06M673.87 505.74L669.23 503.06" stroke="#111" stroke-width="1.45" stroke-linecap="round" fill="none"/>
<path d="M679.05 507.07L679.05 501.72M676.73 505.74L681.37 503.06M681.37 505.74L676.73 503.06" stroke="#111" stroke-width="1.45" stroke-linecap="round" fill="none"/>
<path d="M686.55 507.07L686.55 501.72M684.23 505.74L688.87 503.06M688.87 505.74L684.23 503.06" stroke="#111" stroke-width="1.45" stroke-linecap="round" fill="none"/>
<path d="M694.05 507.07L694.05 501.72M691.73 505.74L696.37 503.06M696.37 505.74L691.73 503.06" stroke="#111" stroke-width="1.45" stroke-linecap="round" fill="none"/>
<rect x="720.8" y="600.3" width="13.5" height="7" fill="#F17B78" stroke="#111" stroke-width="1.6" />
<text x="741.47" y="607.6" font-size="10.55" font-weight="normal" text-anchor="start" fill="#111" stroke="#111" stroke-width="0.2" >CON</text>
<rect x="720.8" y="617.9" width="13.5" height="7" fill="#3C8E91" stroke="#111" stroke-width="1.6" />
<text x="741.47" y="625.3" font-size="10.55" font-weight="normal" text-anchor="start" fill="#111" stroke="#111" stroke-width="0.2" >LM</text>
<text x="549.9" y="576.5" font-size="9.86" font-weight="bold" text-anchor="middle" fill="#111" stroke="#111" stroke-width="0.45" transform="rotate(-90 549.9 576.5)" >Corr. lean tissue mass (g)</text>
<text x="8.3" y="732.4" font-size="13.3" font-weight="bold" text-anchor="start" fill="#111" stroke="#111" stroke-width="0.45" >J</text>
<line x1="53.45" y1="724.6" x2="53.45" y2="843.4" stroke="#1a1a1a" stroke-width="1.6" />
<line x1="48.3" y1="843.4" x2="53.45" y2="843.4" stroke="#1a1a1a" stroke-width="1.6" />
<text x="46.32" y="846.7" font-size="9.3" font-weight="bold" text-anchor="end" fill="#111" stroke="#111" stroke-width="0.45" >0</text>
<line x1="48.3" y1="813.7" x2="53.45" y2="813.7" stroke="#1a1a1a" stroke-width="1.6" />
<text x="46.32" y="817" font-size="9.3" font-weight="bold" text-anchor="end" fill="#111" stroke="#111" stroke-width="0.45" >1</text>
<line x1="48.3" y1="784" x2="53.45" y2="784" stroke="#1a1a1a" stroke-width="1.6" />
<text x="46.32" y="787.3" font-size="9.3" font-weight="bold" text-anchor="end" fill="#111" stroke="#111" stroke-width="0.45" >2</text>
<line x1="48.3" y1="754.3" x2="53.45" y2="754.3" stroke="#1a1a1a" stroke-width="1.6" />
<text x="46.32" y="757.6" font-size="9.3" font-weight="bold" text-anchor="end" fill="#111" stroke="#111" stroke-width="0.45" >3</text>
<line x1="48.3" y1="724.6" x2="53.45" y2="724.6" stroke="#1a1a1a" stroke-width="1.6" />
<text x="46.32" y="727.9" font-size="9.3" font-weight="bold" text-anchor="end" fill="#111" stroke="#111" stroke-width="0.45" >4</text>
<line x1="48.3" y1="843.4" x2="183" y2="843.4" stroke="#1a1a1a" stroke-width="1.6" />
<line x1="70.7" y1="819.3" x2="70.7" y2="817" stroke="#3a3a3a" stroke-width="1.15" />
<line x1="66.2" y1="817" x2="75.2" y2="817" stroke="#3a3a3a" stroke-width="1.15" />
<rect x="63.3" y="820.2" width="14.8" height="23.2" fill="#F17B78" stroke="#111" stroke-width="1.8" />
<line x1="96.55" y1="822.7" x2="96.55" y2="821" stroke="#3a3a3a" stroke-width="1.15" />
<line x1="92.05" y1="821" x2="101.05" y2="821" stroke="#3a3a3a" stroke-width="1.15" />
<rect x="89.15" y="823.6" width="14.8" height="19.8" fill="#3C8E91" stroke="#111" stroke-width="1.8" />
<line x1="139.5" y1="757.8" x2="139.5" y2="744" stroke="#3a3a3a" stroke-width="1.15" />
<line x1="135" y1="744" x2="144" y2="744" stroke="#3a3a3a" stroke-width="1.15" />
<rect x="132.1" y="752.2" width="14.8" height="91.2" fill="#F17B78" stroke="#111" stroke-width="1.8" />
<line x1="139.5" y1="753.1" x2="139.5" y2="757.8" stroke="#3a3a3a" stroke-width="1.15" />
<line x1="135" y1="757.8" x2="144" y2="757.8" stroke="#3a3a3a" stroke-width="1.15" />
<line x1="165.2" y1="773.3" x2="165.2" y2="766.3" stroke="#3a3a3a" stroke-width="1.15" />
<line x1="160.7" y1="766.3" x2="169.7" y2="766.3" stroke="#3a3a3a" stroke-width="1.15" />
<rect x="157.8" y="771.3" width="14.8" height="72.1" fill="#3C8E91" stroke="#111" stroke-width="1.8" />
<line x1="165.2" y1="772.2" x2="165.2" y2="773.3" stroke="#3a3a3a" stroke-width="1.15" />
<line x1="160.7" y1="773.3" x2="169.7" y2="773.3" stroke="#3a3a3a" stroke-width="1.15" />
<line x1="84" y1="843.4" x2="84" y2="848.7" stroke="#1a1a1a" stroke-width="1.3" />
<text x="85.4" y="856.2" font-size="9.05" font-weight="bold" text-anchor="end" fill="#111" stroke="#111" stroke-width="0.45" transform="rotate(-45 85.4 856.2)" >Baseline</text>
<line x1="151.9" y1="843.4" x2="151.9" y2="848.7" stroke="#1a1a1a" stroke-width="1.3" />
<text x="153.7" y="856.2" font-size="8.94" font-weight="bold" text-anchor="end" fill="#111" stroke="#111" stroke-width="0.45" transform="rotate(-45 153.7 856.2)" >Endpoint</text>
<polyline points="70.6,810.3 70.6,729.7 96.4,729.7 96.4,814.9" fill="none" stroke="#151515" stroke-width="1.55" stroke-linejoin="miter" />
<text x="83.35" y="724" font-size="10.6" font-weight="normal" text-anchor="middle" fill="#111" stroke="#111" stroke-width="0.2" >ns</text>
<polyline points="139.3,736.6 139.3,729.7 165.2,729.7 165.2,760.3" fill="none" stroke="#151515" stroke-width="1.55" stroke-linejoin="miter" />
<path d="M152.2 724.67L152.2 720.33M150.32 723.59L154.08 721.41M154.08 723.59L150.32 721.41" stroke="#111" stroke-width="1.45" stroke-linecap="round" fill="none"/>
<rect x="193.7" y="806.3" width="12.3" height="6.5" fill="#F17B78" stroke="#111" stroke-width="1.6" />
<text x="212.9" y="813.1" font-size="10.1" font-weight="normal" text-anchor="start" fill="#111" stroke="#111" stroke-width="0.2" >CON</text>
<rect x="193.7" y="823.2" width="12.3" height="6.3" fill="#3C8E91" stroke="#111" stroke-width="1.6" />
<text x="212.9" y="829.8" font-size="10.1" font-weight="normal" text-anchor="start" fill="#111" stroke="#111" stroke-width="0.2" >LM</text>
<text x="31.9" y="784.2" font-size="9.5" font-weight="bold" text-anchor="middle" fill="#111" stroke="#111" stroke-width="0.45" transform="rotate(-90 31.9 784.2)" >Corr. fat mass (g)</text>
<text x="259.2" y="732.4" font-size="13.3" font-weight="bold" text-anchor="start" fill="#111" stroke="#111" stroke-width="0.45" >K</text>
<line x1="323.55" y1="722.6" x2="323.55" y2="841.1" stroke="#1a1a1a" stroke-width="1.6" />
<line x1="318.3" y1="841.1" x2="323.55" y2="841.1" stroke="#1a1a1a" stroke-width="1.6" />
<text x="316.82" y="844.4" font-size="9.3" font-weight="bold" text-anchor="end" fill="#111" stroke="#111" stroke-width="0.45" >0</text>
<line x1="318.3" y1="811.48" x2="323.55" y2="811.48" stroke="#1a1a1a" stroke-width="1.6" />
<text x="316.82" y="814.78" font-size="9.3" font-weight="bold" text-anchor="end" fill="#111" stroke="#111" stroke-width="0.45" >5</text>
<line x1="318.3" y1="781.85" x2="323.55" y2="781.85" stroke="#1a1a1a" stroke-width="1.6" />
<text x="316.82" y="785.15" font-size="9.3" font-weight="bold" text-anchor="end" fill="#111" stroke="#111" stroke-width="0.45" >10</text>
<line x1="318.3" y1="752.23" x2="323.55" y2="752.23" stroke="#1a1a1a" stroke-width="1.6" />
<text x="316.82" y="755.53" font-size="9.3" font-weight="bold" text-anchor="end" fill="#111" stroke="#111" stroke-width="0.45" >15</text>
<line x1="318.3" y1="722.6" x2="323.55" y2="722.6" stroke="#1a1a1a" stroke-width="1.6" />
<text x="316.82" y="725.9" font-size="9.3" font-weight="bold" text-anchor="end" fill="#111" stroke="#111" stroke-width="0.45" >20</text>
<line x1="318.3" y1="841.1" x2="452.3" y2="841.1" stroke="#1a1a1a" stroke-width="1.6" />
<line x1="340.7" y1="797.4" x2="340.7" y2="792.5" stroke="#3a3a3a" stroke-width="1.15" />
<line x1="336.2" y1="792.5" x2="345.2" y2="792.5" stroke="#3a3a3a" stroke-width="1.15" />
<rect x="333.3" y="796.5" width="14.8" height="44.6" fill="#F17B78" stroke="#111" stroke-width="1.8" />
<line x1="340.7" y1="797.4" x2="340.7" y2="797.4" stroke="#3a3a3a" stroke-width="1.15" />
<line x1="336.2" y1="797.4" x2="345.2" y2="797.4" stroke="#3a3a3a" stroke-width="1.15" />
<line x1="366.55" y1="799" x2="366.55" y2="797.3" stroke="#3a3a3a" stroke-width="1.15" />
<line x1="362.05" y1="797.3" x2="371.05" y2="797.3" stroke="#3a3a3a" stroke-width="1.15" />
<rect x="359.15" y="799.9" width="14.8" height="41.2" fill="#3C8E91" stroke="#111" stroke-width="1.8" />
<line x1="409.5" y1="758.6" x2="409.5" y2="747.2" stroke="#3a3a3a" stroke-width="1.15" />
<line x1="405" y1="747.2" x2="414" y2="747.2" stroke="#3a3a3a" stroke-width="1.15" />
<rect x="402.1" y="754.6" width="14.8" height="86.5" fill="#F17B78" stroke="#111" stroke-width="1.8" />
<line x1="409.5" y1="755.5" x2="409.5" y2="758.6" stroke="#3a3a3a" stroke-width="1.15" />
<line x1="405" y1="758.6" x2="414" y2="758.6" stroke="#3a3a3a" stroke-width="1.15" />
<line x1="435.35" y1="751.6" x2="435.35" y2="749.7" stroke="#3a3a3a" stroke-width="1.15" />
<line x1="430.85" y1="749.7" x2="439.85" y2="749.7" stroke="#3a3a3a" stroke-width="1.15" />
<rect x="427.95" y="752.5" width="14.8" height="88.6" fill="#3C8E91" stroke="#111" stroke-width="1.8" />
<line x1="353.3" y1="841.1" x2="353.3" y2="846.4" stroke="#1a1a1a" stroke-width="1.3" />
<text x="355.7" y="853.5" font-size="9.02" font-weight="bold" text-anchor="end" fill="#111" stroke="#111" stroke-width="0.45" transform="rotate(-45 355.7 853.5)" >Baseline</text>
<line x1="422.1" y1="841.1" x2="422.1" y2="846.4" stroke="#1a1a1a" stroke-width="1.3" />
<text x="423.9" y="853.7" font-size="9.07" font-weight="bold" text-anchor="end" fill="#111" stroke="#111" stroke-width="0.45" transform="rotate(-45 423.9 853.7)" >Endpoint</text>
<polyline points="340.6,786 340.6,733.7 366.4,733.7 366.4,790.4" fill="none" stroke="#151515" stroke-width="1.55" stroke-linejoin="miter" />
<text x="353.5" y="727.3" font-size="10.6" font-weight="normal" text-anchor="middle" fill="#111" stroke="#111" stroke-width="0.2" >ns</text>
<polyline points="409.3,740.5 409.3,733.7 435.2,733.7 435.2,742.3" fill="none" stroke="#151515" stroke-width="1.55" stroke-linejoin="miter" />
<text x="422.3" y="727.3" font-size="10.6" font-weight="normal" text-anchor="middle" fill="#111" stroke="#111" stroke-width="0.2" >ns</text>
<rect x="458.7" y="804.3" width="12.3" height="6.3" fill="#F17B78" stroke="#111" stroke-width="1.6" />
<text x="478.2" y="811.4" font-size="10" font-weight="normal" text-anchor="start" fill="#111" stroke="#111" stroke-width="0.2" >CON</text>
<rect x="458.7" y="821.2" width="12.3" height="5.9" fill="#3C8E91" stroke="#111" stroke-width="1.6" />
<text x="478.2" y="827.5" font-size="10" font-weight="normal" text-anchor="start" fill="#111" stroke="#111" stroke-width="0.2" >LM</text>
<text x="297.3" y="782.2" font-size="9.65" font-weight="bold" text-anchor="middle" fill="#111" stroke="#111" stroke-width="0.45" transform="rotate(-90 297.3 782.2)" >Corr. % body fat</text>
<text x="524.7" y="732.4" font-size="13.3" font-weight="bold" text-anchor="start" fill="#111" stroke="#111" stroke-width="0.45" >L</text>
<line x1="576.35" y1="728.6" x2="576.35" y2="847.4" stroke="#1a1a1a" stroke-width="1.6" />
<line x1="571.1" y1="847.4" x2="576.35" y2="847.4" stroke="#1a1a1a" stroke-width="1.6" />
<text x="569.42" y="850.7" font-size="9.3" font-weight="bold" text-anchor="end" fill="#111" stroke="#111" stroke-width="0.45" >0</text>
<line x1="571.1" y1="817.7" x2="576.35" y2="817.7" stroke="#1a1a1a" stroke-width="1.6" />
<text x="569.42" y="821" font-size="9.3" font-weight="bold" text-anchor="end" fill="#111" stroke="#111" stroke-width="0.45" >5</text>
<line x1="571.1" y1="788" x2="576.35" y2="788" stroke="#1a1a1a" stroke-width="1.6" />
<text x="569.42" y="791.3" font-size="9.3" font-weight="bold" text-anchor="end" fill="#111" stroke="#111" stroke-width="0.45" >10</text>
<line x1="571.1" y1="758.3" x2="576.35" y2="758.3" stroke="#1a1a1a" stroke-width="1.6" />
<text x="569.42" y="761.6" font-size="9.3" font-weight="bold" text-anchor="end" fill="#111" stroke="#111" stroke-width="0.45" >15</text>
<line x1="571.1" y1="728.6" x2="576.35" y2="728.6" stroke="#1a1a1a" stroke-width="1.6" />
<text x="569.42" y="731.9" font-size="9.3" font-weight="bold" text-anchor="end" fill="#111" stroke="#111" stroke-width="0.45" >20</text>
<line x1="571.1" y1="847.4" x2="705.3" y2="847.4" stroke="#1a1a1a" stroke-width="1.6" />
<line x1="593.6" y1="790" x2="593.6" y2="787.9" stroke="#3a3a3a" stroke-width="1.15" />
<line x1="589.1" y1="787.9" x2="598.1" y2="787.9" stroke="#3a3a3a" stroke-width="1.15" />
<rect x="586.1" y="790.9" width="15" height="56.5" fill="#F17B78" stroke="#111" stroke-width="1.8" />
<line x1="619.7" y1="793.6" x2="619.7" y2="791.6" stroke="#3a3a3a" stroke-width="1.15" />
<line x1="615.2" y1="791.6" x2="624.2" y2="791.6" stroke="#3a3a3a" stroke-width="1.15" />
<rect x="612.2" y="794.5" width="15" height="52.9" fill="#3C8E91" stroke="#111" stroke-width="1.8" />
<line x1="662.55" y1="742.2" x2="662.55" y2="739.8" stroke="#3a3a3a" stroke-width="1.15" />
<line x1="658.05" y1="739.8" x2="667.05" y2="739.8" stroke="#3a3a3a" stroke-width="1.15" />
<rect x="655.05" y="743.1" width="15" height="104.3" fill="#F17B78" stroke="#111" stroke-width="1.8" />
<line x1="688.6" y1="768.3" x2="688.6" y2="762.3" stroke="#3a3a3a" stroke-width="1.15" />
<line x1="684.1" y1="762.3" x2="693.1" y2="762.3" stroke="#3a3a3a" stroke-width="1.15" />
<rect x="681.1" y="766.8" width="15" height="80.6" fill="#3C8E91" stroke="#111" stroke-width="1.8" />
<line x1="688.6" y1="767.7" x2="688.6" y2="768.3" stroke="#3a3a3a" stroke-width="1.15" />
<line x1="684.1" y1="768.3" x2="693.1" y2="768.3" stroke="#3a3a3a" stroke-width="1.15" />
<line x1="607" y1="847.4" x2="607" y2="852.7" stroke="#1a1a1a" stroke-width="1.3" />
<text x="608.8" y="860.4" font-size="9" font-weight="bold" text-anchor="end" fill="#111" stroke="#111" stroke-width="0.45" transform="rotate(-45 608.8 860.4)" >Baseline</text>
<line x1="675.5" y1="847.4" x2="675.5" y2="852.7" stroke="#1a1a1a" stroke-width="1.3" />
<text x="677.5" y="860.6" font-size="8.92" font-weight="bold" text-anchor="end" fill="#111" stroke="#111" stroke-width="0.45" transform="rotate(-45 677.5 860.6)" >Endpoint</text>
<polyline points="593.5,781.3 593.5,725.5 619.6,725.5 619.6,785.1" fill="none" stroke="#151515" stroke-width="1.55" stroke-linejoin="miter" />
<text x="606.5" y="719.8" font-size="10.6" font-weight="normal" text-anchor="middle" fill="#111" stroke="#111" stroke-width="0.2" >ns</text>
<polyline points="662.3,733.4 662.3,725.5 688.4,725.5 688.4,755.7" fill="none" stroke="#151515" stroke-width="1.55" stroke-linejoin="miter" />
<path d="M665.15 720.27L665.15 715.73M663.18 719.14L667.12 716.86M667.12 719.14L663.18 716.86" stroke="#111" stroke-width="1.45" stroke-linecap="round" fill="none"/>
<path d="M672.15 720.27L672.15 715.73M670.18 719.14L674.12 716.86M674.12 719.14L670.18 716.86" stroke="#111" stroke-width="1.45" stroke-linecap="round" fill="none"/>
<path d="M679.15 720.27L679.15 715.73M677.18 719.14L681.12 716.86M681.12 719.14L677.18 716.86" stroke="#111" stroke-width="1.45" stroke-linecap="round" fill="none"/>
<path d="M686.15 720.27L686.15 715.73M684.18 719.14L688.12 716.86M688.12 719.14L684.18 716.86" stroke="#111" stroke-width="1.45" stroke-linecap="round" fill="none"/>
<rect x="711.8" y="810.3" width="12.8" height="6.3" fill="#F17B78" stroke="#111" stroke-width="1.6" />
<text x="731.5" y="816.9" font-size="10.1" font-weight="normal" text-anchor="start" fill="#111" stroke="#111" stroke-width="0.2" >CON</text>
<rect x="711.8" y="827.2" width="12.8" height="6.3" fill="#3C8E91" stroke="#111" stroke-width="1.6" />
<text x="731.5" y="833.7" font-size="10.1" font-weight="normal" text-anchor="start" fill="#111" stroke="#111" stroke-width="0.2" >LM</text>
<text x="549.7" y="789.7" font-size="9.7" font-weight="bold" text-anchor="middle" fill="#111" stroke="#111" stroke-width="0.45" transform="rotate(-90 549.7 789.7)" >Corr. fat free mass (g)</text>
</svg>
</body></html>
